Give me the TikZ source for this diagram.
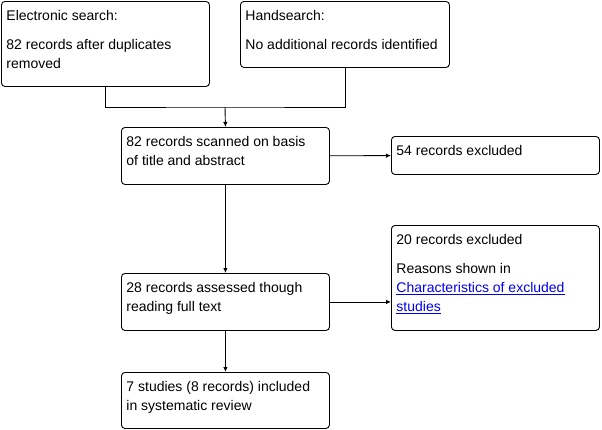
\documentclass[tikz,border=0pt]{standalone}
\usepackage{fontspec}
\setmainfont{Liberation Sans}
\usetikzlibrary{arrows.meta}
\definecolor{linkblue}{RGB}{0,0,238}
% box text: width, height, text
\newcommand{\boxtxt}[3]{\parbox[c][#2][t]{#1}{\raggedright\vspace*{6pt}\strut #3}}
\newcommand{\lnk}[1]{\textcolor{linkblue}{\underline{#1}}}
\begin{document}
\begin{tikzpicture}[x=1pt,y=-1pt,
    flowbox/.style={draw,line width=0.9pt,rounded corners=3.5pt,anchor=north west,
        inner xsep=5pt,inner ysep=0pt,font=\fontsize{14}{19}\selectfont},
    flowline/.style={line width=0.9pt},
    flowarrow/.style={flowline,-{Latex[length=5pt,width=4.5pt]}}]
\useasboundingbox (0,0) rectangle (602,429);
\node[flowbox] (esearch) at (1,1)
    {\boxtxt{198pt}{85pt}{Electronic search:\\[10pt]82 records after duplicates\\removed}};
\node[flowbox] (hsearch) at (240,1)
    {\boxtxt{199pt}{66pt}{Handsearch:\\[10pt]No additional records identified}};
\node[flowbox] (scan) at (121,127)
    {\boxtxt{198pt}{57pt}{82 records scanned on basis\\of title and abstract}};
\node[flowbox] (excl1) at (391,136)
    {\boxtxt{198pt}{38pt}{54 records excluded}};
\node[flowbox] (full) at (121,273)
    {\boxtxt{198pt}{57pt}{28 records assessed though\\reading full text}};
\node[flowbox] (excl2) at (391,225)
    {\boxtxt{198pt}{105pt}{20 records excluded\\[10pt]Reasons shown in\\\lnk{Characteristics of excluded}\\\lnk{studies}}};
\node[flowbox] (incl) at (121,372)
    {\boxtxt{198pt}{56pt}{7 studies (8 records) included\\in systematic review}};
\coordinate (join) at (225,107);
\draw[flowline] (esearch.south) |- (join) -| (hsearch.south);
\draw[flowarrow] (join) -- (scan.north);
\draw[flowarrow] (scan) -- (excl1);
\draw[flowarrow] (scan) -- (full);
\draw[flowarrow] (full.east) -- (full.east -| excl2.west);
\draw[flowarrow] (full) -- (incl);
\end{tikzpicture}
\end{document}
